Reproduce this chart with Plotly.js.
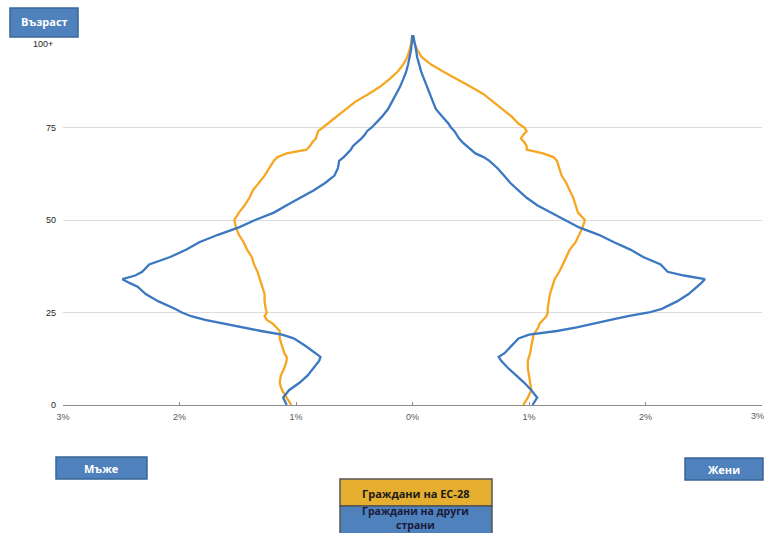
<!DOCTYPE html>
<html>
<head>
<meta charset="utf-8">
<script src="https://cdn.plot.ly/plotly-3.0.1.min.js"></script>
<style>
html,body{margin:0;padding:0;background:#fff;}
#chart{width:767px;height:533px;}
</style>
</head>
<body>
<div id="chart"></div>
<script>
// Ages (years); 100 = "100+"
const ages = [0,2,4,6,8,10,12,13,14,16,18,19,20,21,22,23,24,25,26,28,30,32,33,34,35,36,38,40,42,44,46,48,50,52,54,56,58,60,62,64,66,67,68,69,70,71,72,73,74,75,76,78,80,82,84,86,88,90,92,94,96,98,100];

// Share of population (%), men shown on the left
const otherMen = [1.08,1.11,1.06,0.97,0.90,0.85,0.80,0.79,0.83,0.92,1.02,1.12,1.30,1.47,1.63,1.78,1.90,1.98,2.04,2.18,2.29,2.36,2.43,2.49,2.38,2.32,2.26,2.08,1.94,1.83,1.67,1.49,1.35,1.19,1.08,0.96,0.85,0.75,0.67,0.64,0.63,0.59,0.56,0.53,0.51,0.47,0.44,0.41,0.39,0.35,0.32,0.26,0.21,0.175,0.14,0.107,0.08,0.055,0.038,0.024,0.012,0.006,0.002];
const euMen = [1.04,1.08,1.12,1.14,1.13,1.10,1.08,1.08,1.10,1.12,1.14,1.14,1.14,1.17,1.20,1.25,1.27,1.25,1.26,1.27,1.27,1.29,1.30,1.31,1.32,1.33,1.36,1.38,1.42,1.45,1.49,1.515,1.53,1.49,1.44,1.40,1.37,1.32,1.27,1.23,1.19,1.16,1.08,0.91,0.88,0.86,0.83,0.82,0.81,0.77,0.73,0.64,0.56,0.49,0.38,0.28,0.20,0.13,0.08,0.045,0.025,0.01,0.002];
const otherWomen = [1.03,1.07,1.02,0.96,0.89,0.82,0.76,0.74,0.79,0.85,0.91,1.00,1.24,1.41,1.57,1.70,1.85,2.03,2.14,2.27,2.37,2.45,2.48,2.51,2.33,2.19,2.13,1.98,1.87,1.73,1.60,1.43,1.31,1.20,1.07,0.98,0.91,0.84,0.785,0.73,0.66,0.61,0.54,0.50,0.47,0.43,0.40,0.38,0.36,0.33,0.31,0.255,0.20,0.175,0.15,0.12,0.10,0.075,0.058,0.04,0.03,0.018,0.005];
const euWomen = [0.95,0.99,1.02,1.01,1.00,0.99,0.99,1.00,1.01,1.02,1.03,1.04,1.06,1.08,1.09,1.12,1.15,1.16,1.16,1.17,1.18,1.20,1.21,1.22,1.24,1.26,1.29,1.32,1.35,1.40,1.43,1.46,1.48,1.42,1.40,1.38,1.35,1.32,1.28,1.26,1.24,1.21,1.12,0.98,0.98,0.96,0.93,0.95,0.98,0.96,0.91,0.85,0.77,0.68,0.61,0.50,0.38,0.27,0.16,0.08,0.04,0.015,0.005];

const xTickVals = [-3,-2,-1,0,1,2,3];
const xTickText = ['3%','2%','1%','0%','1%','2%',''];
const edgeLabel = '3%';
const yTickVals = [0,25,50,75,100];
const yTickText = ['0','25','50','75',''];
const topLabel = '100+';

const labels = {
  age: 'Възраст',
  men: 'Мъже',
  women: 'Жени',
  eu: 'Граждани на ЕС-28',
  other: 'Граждани на други<br>страни'
};

const BLUE = '#3b78c1';
const ORANGE = '#f6a623';
const BOXBLUE = '#4f81bd';
const BOXORANGE = '#e5ae2e';

// plot area in pixels
const L = 63, R = 762, T = 35, B = 405;
const px = x => (x - L) / (R - L);
const py = y => (B - y) / (B - T);

const neg = a => a.map(v => -v);

const traces = [
  {x: neg(euMen), y: ages, type:'scatter', mode:'lines', line:{color:ORANGE, width:2.3}, hoverinfo:'skip'},
  {x: euWomen, y: ages, type:'scatter', mode:'lines', line:{color:ORANGE, width:2.3}, hoverinfo:'skip'},
  {x: neg(otherMen), y: ages, type:'scatter', mode:'lines', line:{color:BLUE, width:2.3}, hoverinfo:'skip'},
  {x: otherWomen, y: ages, type:'scatter', mode:'lines', line:{color:BLUE, width:2.3}, hoverinfo:'skip'}
];

function box(x0,y0,x1,y1,fill,line){
  return {type:'rect', xref:'paper', yref:'paper', x0:px(x0), x1:px(x1), y0:py(y1), y1:py(y0),
          fillcolor:fill, line:{color:line, width:1.5}, layer:'above'};
}
function txt(x,y,text,color,size){
  return {xref:'paper', yref:'paper', x:px(x), y:py(y), text:text, showarrow:false,
          xanchor:'center', yanchor:'middle',
          font:{family:'Open Sans, Noto Sans, sans-serif', size:size||11, color:color, weight:'bold'}};
}

const shapes = [
  box(10,8,78,37,BOXBLUE,'#3a6596'),
  box(56,457,147,479,BOXBLUE,'#3a6596'),
  box(685,458,763,480,BOXBLUE,'#3a6596'),
  box(340,479,492,506,BOXORANGE,'#555555'),
  box(340,506,492,545,BOXBLUE,'#555555')
];

const annotations = [
  txt(44,22,'<b>'+labels.age+'</b>','#ffffff',11),
  txt(101,468,'<b>'+labels.men+'</b>','#ffffff',11),
  txt(724,469,'<b>'+labels.women+'</b>','#ffffff',11),
  txt(416,493,'<b>'+labels.eu+'</b>','#1a1a1a',11),
  txt(416,518,'<b>'+labels.other+'</b>','#1a1a3a',10.5),
  {xref:'paper', yref:'y', x:-0.012, y:100, yshift:-9, xanchor:'right', yanchor:'middle',
   text:topLabel, showarrow:false, font:{family:'Liberation Sans, Arial, sans-serif', size:9, color:'#262626'}},
  {xref:'paper', yref:'paper', x:px(766), y:py(416), xanchor:'right', yanchor:'middle',
   text:edgeLabel, showarrow:false, font:{family:'Liberation Sans, Arial, sans-serif', size:9, color:'#595959'}}
];

const layout = {
  width:767, height:533,
  margin:{l:L, r:767-R, t:T, b:533-B, pad:0},
  paper_bgcolor:'#ffffff', plot_bgcolor:'#ffffff',
  showlegend:false,
  xaxis:{
    range:[-3,3], tickvals:xTickVals, ticktext:xTickText,
    showgrid:false, zeroline:false, showline:true, linecolor:'#8c8c8c', linewidth:1,
    ticks:'inside', ticklen:3, tickcolor:'#8c8c8c', ticklabelstandoff:3,
    tickfont:{family:'Liberation Sans, Arial, sans-serif', size:9, color:'#595959'},
    automargin:false, fixedrange:true
  },
  yaxis:{
    range:[0,100], tickvals:yTickVals, ticktext:yTickText,
    showgrid:true, gridcolor:'#dcdcdc', gridwidth:1, zeroline:false, showline:false,
    ticks:'', ticklabelstandoff:6,
    tickfont:{family:'Liberation Sans, Arial, sans-serif', size:9, color:'#262626'},
    automargin:false, fixedrange:true
  },
  shapes:shapes,
  annotations:annotations
};

Plotly.newPlot('chart', traces, layout, {staticPlot:true, displayModeBar:false});
</script>
</body>
</html>
